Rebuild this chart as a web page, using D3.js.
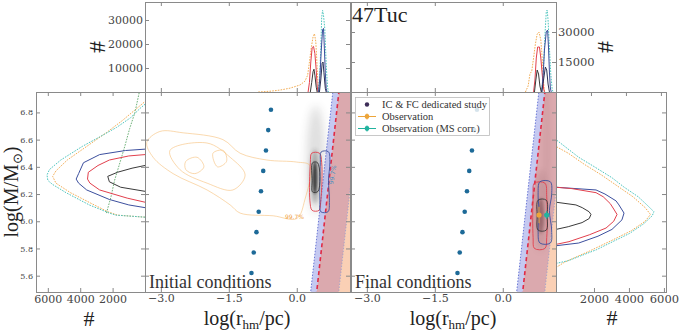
<!DOCTYPE html>
<html>
<head>
<meta charset="utf-8">
<script src="https://cdn.jsdelivr.net/npm/d3@7"></script>
<style>
  body { margin: 0; background: #fff; }
  svg { display: block; }
  .tick text { font-family: "DejaVu Serif", serif; fill: #444; }
  .tick line { stroke: #888; }
</style>
</head>
<body>
<svg id="chart" width="680" height="332"></svg>
<script>
// ---------------- data ----------------
const massTicks = [5.6, 5.8, 6.0, 6.2, 6.4, 6.6, 6.8];
const radiusTicks = [-3.0, -1.5, 0.0];
const countTicks = [2000, 4000, 6000];
const topLeftTicks = [10000, 20000, 30000];
const topRightTicks = [15000, 30000];

// grid of models of the dedicated study (log M, log rhm)
const gridMass = [5.62, 5.77, 5.92, 6.07, 6.22, 6.37, 6.52, 6.67, 6.82];
const gridRadius = [-1.0, -0.95, -0.89, -0.84, -0.79, -0.74, -0.68, -0.63, -0.57];

// limit lines, end points (log M -> log rhm)
const limitMass = [5.40, 7.00];
const limitBlue = [0.28, 0.813];
const limitRed = [0.413, 0.946];
const limitOrange = [0.90, 1.433];

// top histograms: [log rhm, count]
const topL_orange = [[-0.85,0],[-0.6,300],[-0.37,800],[-0.15,1600],[0.07,2900],[0.18,4500],[0.24,7000],[0.28,12500],[0.32,18500],[0.36,23000],[0.39,24300],[0.42,21000],[0.44,14000],[0.46,6000],[0.48,1500],[0.50,0]];
const topL_red = [[0.25,0],[0.28,4000],[0.31,12500],[0.34,18500],[0.37,19000],[0.40,16000],[0.43,9000],[0.45,2500],[0.47,0]];
const topL_black = [[0.30,0],[0.33,4000],[0.36,8500],[0.38,9500],[0.40,7000],[0.43,2000],[0.45,0]];
const topL_black2 = [[0.50,0],[0.53,5000],[0.56,12000],[0.58,12500],[0.60,8000],[0.63,1500],[0.65,0]];
const topL_navy = [[0.48,0],[0.51,6000],[0.54,17000],[0.57,26000],[0.59,26500],[0.61,18000],[0.63,8000],[0.65,1500],[0.67,0]];
const topL_cyan = [[0.48,0],[0.51,8000],[0.53,18000],[0.55,31000],[0.57,34000],[0.59,32000],[0.62,26000],[0.64,16000],[0.66,8000],[0.68,2000],[0.70,0]];

const topR_orange = [[0.50,0],[0.56,3000],[0.60,9000],[0.64,10500],[0.68,17000],[0.72,24000],[0.76,29000],[0.80,30000],[0.84,26000],[0.87,17000],[0.90,5000],[0.92,0]];
const topR_red = [[0.68,0],[0.71,6000],[0.74,17000],[0.77,22500],[0.81,22500],[0.84,17000],[0.87,9000],[0.90,2000],[0.92,0]];
const topR_black = [[0.70,0],[0.73,6000],[0.76,11000],[0.79,9000],[0.82,3000],[0.85,0]];
const topR_black2 = [[0.86,0],[0.90,6000],[0.94,12500],[0.97,11000],[1.00,4000],[1.03,0]];
const topR_navy = [[0.86,0],[0.89,8000],[0.92,21000],[0.96,30000],[0.99,31000],[1.01,22000],[1.03,10000],[1.05,2000],[1.07,0]];
const topR_cyan = [[0.86,0],[0.90,12000],[0.93,28000],[0.96,40000],[0.98,41000],[1.00,36000],[1.03,22000],[1.06,9000],[1.09,1500],[1.11,0]];

// side histograms: [log M, count]
const leftM_cyan = [[6.03,0],[6.045,1800],[6.06,2200],[6.12,3440],[6.21,4875],[6.27,5700],[6.30,6000],[6.34,6050],[6.38,5900],[6.45,5200],[6.55,3875],[6.62,2800],[6.69,1750],[6.76,900],[6.83,300],[6.86,0]];
const leftM_orange = [[6.03,0],[6.045,1700],[6.07,2300],[6.13,3300],[6.21,4600],[6.28,5500],[6.33,5700],[6.37,5500],[6.45,4800],[6.55,3600],[6.65,2400],[6.74,1400],[6.82,600],[6.88,0]];
const leftM_navy = [[6.10,0],[6.12,1000],[6.16,2200],[6.23,3600],[6.28,4100],[6.31,4250],[6.35,4100],[6.43,3800],[6.49,2800],[6.52,1200],[6.53,0]];
const leftM_red = [[6.14,0],[6.17,1100],[6.23,2800],[6.28,3400],[6.31,3550],[6.36,3500],[6.41,2900],[6.45,2200],[6.48,1000],[6.49,0]];
const leftM_black = [[6.22,0],[6.25,1500],[6.29,2200],[6.33,2300],[6.36,1700],[6.39,800],[6.41,0]];
const leftM_green = [[6.06,2380],[6.18,2100],[6.30,1880],[6.43,1550],[6.55,1250],[6.68,950],[6.80,620],[6.95,350]];

const rightM_cyan = [[5.69,0],[5.71,700],[5.79,2300],[5.86,3400],[5.91,4200],[5.98,5000],[6.04,5500],[6.07,5600],[6.12,5200],[6.18,4700],[6.25,3900],[6.32,3200],[6.40,2200],[6.47,1300],[6.55,500],[6.60,0]];
const rightM_orange = [[5.66,0],[5.70,500],[5.78,1900],[5.86,3200],[5.93,4300],[6.00,5100],[6.05,5400],[6.10,5100],[6.18,4400],[6.26,3500],[6.34,2600],[6.42,1600],[6.50,700],[6.55,0]];
const rightM_navy = [[5.82,0],[5.84,1300],[5.89,2400],[5.94,3200],[6.01,3770],[6.06,3890],[6.12,3600],[6.15,3430],[6.20,2800],[6.23,2290],[6.25,0]];
const rightM_red = [[5.83,0],[5.85,740],[5.90,1900],[5.95,2860],[6.00,3300],[6.05,3490],[6.09,3300],[6.13,3100],[6.18,2700],[6.21,2290],[6.24,900],[6.25,0]];
const rightM_black = [[5.94,0],[5.96,700],[5.99,1490],[6.02,1900],[6.05,2000],[6.07,1890],[6.10,1500],[6.12,1140],[6.14,0]];

// contours: [log rhm, log M]
const ic_orangeOuter = [[-3.31,6.58],[-3.02,6.66],[-2.51,6.65],[-1.63,6.60],[-1.25,6.50],[-0.66,6.45],[0.0,6.435],[0.29,6.41],[0.18,6.16],[0.0,6.02],[-0.52,6.04],[-1.25,6.06],[-1.47,6.12],[-1.98,6.23],[-2.73,6.35],[-3.17,6.47]];
const ic_orangeInner = [[-2.80,6.52],[-1.98,6.575],[-1.47,6.47],[-1.14,6.34],[-1.41,6.23],[-1.98,6.28],[-2.58,6.38]];
const ic_orangeSmall = [[-2.45,6.44],[-2.20,6.47],[-2.05,6.40],[-2.25,6.35],[-2.45,6.38]];
const ic_orangeSmall2 = [[-1.85,6.50],[-1.62,6.52],[-1.55,6.44],[-1.75,6.40]];
const ic_red = [[0.33,6.50],[0.50,6.50],[0.55,6.43],[0.53,6.15],[0.49,6.08],[0.34,6.08],[0.29,6.15],[0.30,6.43]];
const ic_navy = [[0.54,6.51],[0.70,6.51],[0.73,6.43],[0.70,6.30],[0.72,6.15],[0.69,6.07],[0.53,6.07],[0.51,6.15],[0.52,6.43]];
const ic_black = [[0.35,6.43],[0.46,6.43],[0.47,6.22],[0.35,6.215],[0.34,6.30]];

const fc_red = [[0.70,6.28],[0.93,6.28],[0.97,6.18],[0.97,5.88],[0.93,5.80],[0.70,5.80],[0.67,5.88],[0.67,6.18]];
const fc_navy = [[0.82,6.29],[1.05,6.29],[1.08,6.20],[1.03,6.08],[1.08,5.93],[1.05,5.84],[0.82,5.84],[0.78,5.93],[0.80,6.08],[0.78,6.20]];
const fc_black = [[0.78,6.155],[0.96,6.155],[0.98,6.04],[0.96,5.935],[0.78,5.935],[0.76,6.04]];

// density of the dedicated study: [log rhm, log M, spread r, spread M, level]
const ic_density = [[0.42,6.45,0.20,0.40,0.16],[0.40,6.33,0.10,0.20,0.32],[0.40,6.32,0.05,0.12,0.85]];
const fc_density = [[0.97,6.55,0.10,0.45,0.07],[0.84,6.08,0.16,0.30,0.16],[0.84,6.04,0.07,0.13,0.5]];

// observations: [log rhm, log M, err r, err M]
const obs = [0.80, 6.046, 0.04, 0.06];
const obsMS = [0.97, 6.046, 0.05, 0.03];

const legendLabels = ["IC & FC dedicated study", "Observation", "Observation (MS corr.)"];

// ---------------- styles ----------------
const lineStyle = {
  orange: { stroke: "#f3ad55", dash: "1.6,1.2" },
  orangeC: { stroke: "#f6bf78", dash: null },
  cyan:   { stroke: "#4fc6bf", dash: "1.6,1.2" },
  navy:   { stroke: "#3c4f9e", dash: null },
  red:    { stroke: "#e2404d", dash: null },
  black:  { stroke: "#3a3a3a", dash: null },
  black2: { stroke: "#2b3055", dash: null },
  green:  { stroke: "#6fb27a", dash: "1.6,1.2" }
};

// ---------------- scales ----------------
const mass = d3.scaleLinear().domain([5.48, 6.95]).range([292, 92]);
const rLeft = d3.scaleLinear().domain([-3.35, 1.175]).range([145, 350]);
const rRight = d3.scaleLinear().domain([-3.35, 1.175]).range([351, 556]);
const countL = d3.scaleLinear().domain([0, 6730]).range([145, 36]);
const countR = d3.scaleLinear().domain([0, 6290]).range([556, 666]);
const topYL = d3.scaleLinear().domain([0, 37500]).range([92, 2]);
const topYR = d3.scaleLinear().domain([0, 45000]).range([92, 2]);

const svg = d3.select("#chart");
const defs = svg.append("defs");

function panel(id, x0, y0, x1, y1) {
  defs.append("clipPath").attr("id", id)
    .append("rect").attr("x", x0).attr("y", y0).attr("width", x1 - x0).attr("height", y1 - y0);
  return svg.append("g").attr("clip-path", `url(#${id})`);
}

function drawLine(g, data, line, name, width = 1) {
  const st = lineStyle[name];
  g.append("path").datum(data)
    .attr("d", line)
    .attr("fill", "none")
    .attr("stroke", st.stroke)
    .attr("stroke-width", width)
    .attr("stroke-dasharray", st.dash);
}

// ---------------- top histograms ----------------
const topLeft = panel("clipTL", 145, 2, 350, 92);
const topLine = d3.line().x(d => rLeft(d[0])).y(d => topYL(d[1]));
[[topL_orange, "orange"], [topL_cyan, "cyan"], [topL_red, "red"], [topL_navy, "navy"], [topL_black, "black"], [topL_black2, "black2"]]
  .forEach(([d, n]) => drawLine(topLeft, d, topLine, n));

const topRight = panel("clipTR", 351, 2, 556, 92);
const topLineR = d3.line().x(d => rRight(d[0])).y(d => topYR(d[1]));
[[topR_orange, "orange"], [topR_cyan, "cyan"], [topR_red, "red"], [topR_navy, "navy"], [topR_black, "black"], [topR_black2, "black2"]]
  .forEach(([d, n]) => drawLine(topRight, d, topLineR, n));

// ---------------- side histograms ----------------
const sideLeft = panel("clipSL", 36, 92, 145, 292);
const sideLineL = d3.line().x(d => countL(d[1])).y(d => mass(d[0]));
[[leftM_orange, "orange"], [leftM_cyan, "cyan"], [leftM_green, "green"], [leftM_navy, "navy"], [leftM_red, "red"], [leftM_black, "black"]]
  .forEach(([d, n]) => drawLine(sideLeft, d, sideLineL, n));

const sideRight = panel("clipSR", 556, 92, 666, 292);
const sideLineR = d3.line().x(d => countR(d[1])).y(d => mass(d[0]));
[[rightM_orange, "orange"], [rightM_cyan, "cyan"], [rightM_navy, "navy"], [rightM_red, "red"], [rightM_black, "black"]]
  .forEach(([d, n]) => drawLine(sideRight, d, sideLineR, n));

// ---------------- main panels ----------------
const level = d3.scaleLinear().domain([0, 1]).range([0, 0.9]);

function mainPanel(id, x0, x1, rScale, density, contours) {
  const g = panel(id, x0, 92, x1, 292);

  // density of models
  density.forEach((b, i) => {
    const rx = Math.abs(rScale(b[0] + b[2]) - rScale(b[0]));
    const ry = Math.abs(mass(b[1] + b[3]) - mass(b[1]));
    const fid = id + "blur" + i;
    defs.append("filter").attr("id", fid)
      .attr("x", "-100%").attr("y", "-100%").attr("width", "300%").attr("height", "300%")
      .append("feGaussianBlur").attr("stdDeviation", Math.max(1.2, rx * 0.5));
    g.append("ellipse")
      .attr("cx", rScale(b[0])).attr("cy", mass(b[1]))
      .attr("rx", rx).attr("ry", ry)
      .attr("fill", "#222").attr("opacity", level(b[4]))
      .attr("filter", `url(#${fid})`);
  });

  // limit regions
  const m0 = limitMass[0], m1 = limitMass[1];
  const poly = pts => "M" + pts.map(p => [rScale(p[0]), mass(p[1])].join(",")).join("L") + "Z";
  g.append("path")
    .attr("d", poly([[limitBlue[0], m0], [limitBlue[1], m1], [limitRed[1], m1], [limitRed[0], m0]]))
    .attr("fill", "rgba(95,105,215,0.36)");
  g.append("path")
    .attr("d", poly([[limitRed[0], m0], [limitRed[1], m1], [limitOrange[1], m1], [limitOrange[0], m0]]))
    .attr("fill", "rgba(175,65,75,0.45)");
  g.append("path")
    .attr("d", poly([[limitOrange[0], m0], [limitOrange[1], m1], [3, m1], [3, m0]]))
    .attr("fill", "rgba(245,150,90,0.45)");

  const seg = (r, c, dash, w) => g.append("line")
    .attr("x1", rScale(r[0])).attr("y1", mass(m0))
    .attr("x2", rScale(r[1])).attr("y2", mass(m1))
    .attr("stroke", c).attr("stroke-width", w).attr("stroke-dasharray", dash);
  seg(limitBlue, "#6b79d6", "1.5,1.5", 1);
  seg(limitOrange, "#9a9ac8", "1.5,1.5", 0.8);
  seg(limitRed, "#e02a45", "4,3", 1.6);

  // contours
  const cl = d3.line().x(d => rScale(d[0])).y(d => mass(d[1])).curve(d3.curveCatmullRomClosed.alpha(0.5));
  contours.forEach(([d, n]) => drawLine(g, d, cl, n, n === "orangeC" ? 0.6 : 0.9));

  // grid models
  g.selectAll("circle.grid").data(gridMass).enter().append("circle")
    .attr("class", "grid")
    .attr("cx", (d, i) => rScale(gridRadius[i]))
    .attr("cy", d => mass(d))
    .attr("r", 2.3)
    .attr("fill", "#1d6a98");
  return g;
}

const mainL = mainPanel("clipML", 145, 350, rLeft, ic_density,
  [[ic_orangeOuter, "orangeC"], [ic_orangeInner, "orangeC"], [ic_orangeSmall, "orangeC"], [ic_orangeSmall2, "orangeC"],
   [ic_red, "red"], [ic_navy, "navy"], [ic_black, "black"]]);
const mainR = mainPanel("clipMR", 351, 556, rRight, fc_density,
  [[fc_red, "red"], [fc_navy, "navy"], [fc_black, "black"]]);

// contour labels
mainL.append("text").attr("x", rLeft(-0.26)).attr("y", mass(6.016))
  .attr("font-family", "DejaVu Sans").attr("font-size", 6).attr("fill", "#f0a040").text("99.7%");
mainL.append("text")
  .attr("transform", `translate(${rLeft(0.80)},${mass(6.27)}) rotate(-80)`)
  .attr("font-family", "DejaVu Sans").attr("font-size", 6).attr("fill", "#4a90c0").text("99.7%");

// observations
function obsPoint(g, o, c, rScale) {
  const x = rScale(o[0]), y = mass(o[1]);
  g.append("line").attr("x1", rScale(o[0] - o[2])).attr("x2", rScale(o[0] + o[2])).attr("y1", y).attr("y2", y)
    .attr("stroke", c).attr("stroke-width", 1);
  g.append("line").attr("x1", x).attr("x2", x).attr("y1", mass(o[1] - o[3])).attr("y2", mass(o[1] + o[3]))
    .attr("stroke", c).attr("stroke-width", 1);
  g.append("circle").attr("cx", x).attr("cy", y).attr("r", 2.6).attr("fill", c);
}
obsPoint(mainR, obs, "#eda53a", rRight);
obsPoint(mainR, obsMS, "#22b39f", rRight);

// ---------------- frames and axes ----------------
const frames = [[145, 2, 350, 92], [351, 2, 556, 92], [36, 92, 145, 292], [145, 92, 350, 292], [351, 92, 556, 292], [556, 92, 666, 292]];
svg.selectAll("rect.frame").data(frames).enter().append("rect")
  .attr("class", "frame")
  .attr("x", d => d[0] + 0.5).attr("y", d => d[1] + 0.5)
  .attr("width", d => d[2] - d[0]).attr("height", d => d[3] - d[1])
  .attr("fill", "none").attr("stroke", "#8a8a8a").attr("stroke-width", 1);

function axis(gen, tx, ty, fontSize, showLabels = true, pad = 3) {
  const g = svg.append("g").attr("transform", `translate(${tx},${ty})`)
    .call(gen.tickSizeInner(-4).tickSizeOuter(0).tickPadding(pad));
  g.select(".domain").remove();
  g.selectAll("text").attr("font-size", fontSize);
  if (!showLabels) g.selectAll("text").remove();
  return g;
}
const f1 = d3.format(".1f");
const fi = d3.format("d");

// top-left histogram
axis(d3.axisLeft(topYL).tickValues(topLeftTicks).tickFormat(fi), 145, 0, 11, true, 2);
axis(d3.axisRight(topYL).tickValues(topLeftTicks), 350, 0, 11, false);
axis(d3.axisBottom(rLeft).tickValues(radiusTicks), 0, 92, 11, false);
axis(d3.axisTop(rLeft).tickValues(radiusTicks), 0, 2, 11, false);
// top-right histogram
axis(d3.axisRight(topYR).tickValues(topRightTicks).tickFormat(fi), 556, 0, 11.5, true, 2);
axis(d3.axisLeft(topYR).tickValues(topRightTicks), 351, 0, 11, false);
axis(d3.axisBottom(rRight).tickValues(radiusTicks), 0, 92, 11, false);
axis(d3.axisTop(rRight).tickValues(radiusTicks), 0, 2, 11, false);
// left side histogram
axis(d3.axisLeft(mass).tickValues(massTicks).tickFormat(f1), 36, 0, 8);
axis(d3.axisRight(mass).tickValues(massTicks), 145, 0, 8, false);
axis(d3.axisBottom(countL).tickValues(countTicks).tickFormat(fi), 0, 292, 11, true, 3);
axis(d3.axisTop(countL).tickValues(countTicks), 0, 92, 12, false);
// main panels
axis(d3.axisLeft(mass).tickValues(massTicks), 145, 0, 8, false);
axis(d3.axisRight(mass).tickValues(massTicks), 350, 0, 8, false);
axis(d3.axisBottom(rLeft).tickValues(radiusTicks).tickFormat(f1), 0, 292, 11, true, 2);
axis(d3.axisTop(rLeft).tickValues(radiusTicks), 0, 92, 11, false);
axis(d3.axisLeft(mass).tickValues(massTicks), 351, 0, 8, false);
axis(d3.axisRight(mass).tickValues(massTicks), 556, 0, 8, false);
axis(d3.axisBottom(rRight).tickValues(radiusTicks).tickFormat(f1), 0, 292, 11, true, 2);
axis(d3.axisTop(rRight).tickValues(radiusTicks), 0, 92, 11, false);
// right side histogram
axis(d3.axisBottom(countR).tickValues(countTicks).tickFormat(fi), 3, 292, 11.5, true, 3);
axis(d3.axisTop(countR).tickValues(countTicks), 0, 92, 12, false);
axis(d3.axisRight(mass).tickValues(massTicks), 666, 0, 8, false);

// ---------------- legend ----------------
const leg = svg.append("g");
leg.append("rect").attr("x", 355.5).attr("y", 97.5).attr("width", 134).attr("height", 38)
  .attr("fill", "rgba(255,255,255,0.82)").attr("stroke", "#bbb").attr("stroke-width", 0.8);
const legY = [104.5, 116.5, 128.5];
leg.append("circle").attr("cx", 367).attr("cy", legY[0]).attr("r", 2.2).attr("fill", "#3d2d58");
[["#eda53a", 1], ["#22b39f", 2]].forEach(([c, i]) => {
  leg.append("line").attr("x1", 358).attr("x2", 376).attr("y1", legY[i]).attr("y2", legY[i]).attr("stroke", c);
  leg.append("line").attr("x1", 367).attr("x2", 367).attr("y1", legY[i] - 3).attr("y2", legY[i] + 3).attr("stroke", c);
  leg.append("circle").attr("cx", 367).attr("cy", legY[i]).attr("r", 2.4).attr("fill", c);
});
leg.selectAll("text").data(legendLabels).enter().append("text")
  .attr("x", 382).attr("y", (d, i) => legY[i] + 3.5)
  .attr("font-family", "Liberation Serif, serif").attr("font-size", 10.5).attr("fill", "#333")
  .text(d => d);

// ---------------- labels ----------------
const serif = "Liberation Serif, serif";
svg.append("text").attr("x", 352).attr("y", 22).attr("font-family", serif).attr("font-size", 22).attr("fill", "#222").text("47Tuc");
svg.append("text").attr("x", 149).attr("y", 288).attr("font-family", serif).attr("font-size", 18).attr("fill", "#333").text("Initial conditions");
svg.append("text").attr("x", 355).attr("y", 288).attr("font-family", serif).attr("font-size", 18).attr("fill", "#333").text("Final conditions");

function rLabel(cx) {
  const t = svg.append("text").attr("x", cx).attr("y", 325).attr("text-anchor", "middle")
    .attr("font-family", serif).attr("font-size", 20).attr("fill", "#222");
  t.append("tspan").text("log(r");
  t.append("tspan").attr("font-size", 13).attr("dy", 4).text("hm");
  t.append("tspan").attr("dy", -4).text("/pc)");
}
rLabel(247);
rLabel(453);

const ml = svg.append("text").attr("transform", "translate(18,192) rotate(-90)").attr("text-anchor", "middle")
  .attr("font-family", serif).attr("font-size", 20).attr("fill", "#222");
ml.append("tspan").text("log(M/M");
ml.append("tspan").attr("font-size", 13).attr("dy", 4).text("⊙");
ml.append("tspan").attr("dy", -4).text(")");

svg.append("text").attr("x", 89).attr("y", 326).attr("text-anchor", "middle")
  .attr("font-family", serif).attr("font-size", 22).attr("fill", "#222").text("#");
svg.append("text").attr("x", 612).attr("y", 325).attr("text-anchor", "middle")
  .attr("font-family", serif).attr("font-size", 22).attr("fill", "#222").text("#");
svg.append("text").attr("transform", "translate(105,47) rotate(-90)").attr("text-anchor", "middle")
  .attr("font-family", serif).attr("font-size", 24).attr("fill", "#222").text("#");
svg.append("text").attr("transform", "translate(613,47) rotate(-90)").attr("text-anchor", "middle")
  .attr("font-family", serif).attr("font-size", 24).attr("fill", "#222").text("#");
</script>
</body>
</html>
